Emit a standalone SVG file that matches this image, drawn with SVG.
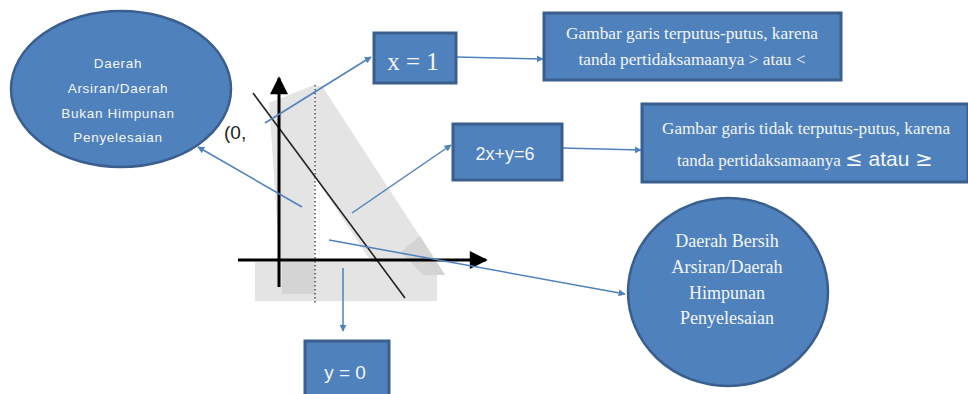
<svg xmlns="http://www.w3.org/2000/svg" width="968" height="394" viewBox="0 0 968 394">
<defs>
<style>
.node{fill:#4f81bd;stroke:#3a5f8e;stroke-width:3}
.ell{fill:#4f81bd;stroke:#3a5f8e;stroke-width:2.5}
.sans{font-family:"Liberation Sans",Arial,sans-serif;fill:#f3f6fb;text-anchor:middle}
.serif{font-family:"Liberation Serif","Times New Roman",serif;fill:#f3f6fb;text-anchor:middle}
.conn{stroke:#4f81bd;stroke-width:1.5;fill:none;marker-end:url(#ah)}
.sh1{fill:#e4e4e4}
.sh2{fill:#d4d4d4}
</style>
<marker id="ah" viewBox="0 0 10 10" refX="9" refY="5" markerWidth="7" markerHeight="7" markerUnits="userSpaceOnUse" orient="auto">
<path d="M0,0 L10,5 L0,10 z" fill="#4f81bd"/>
</marker>
<marker id="bk" viewBox="0 0 10 10" refX="9" refY="5" markerWidth="6.5" markerHeight="6" orient="auto">
<path d="M0,0 L10,5 L0,10 z" fill="#000"/>
</marker>
</defs>
<rect width="968" height="394" fill="#fff"/>

<g id="graph">
<rect class="sh1" x="255" y="262" width="182" height="39"/>
<polygon class="sh1" points="269,103 314,85 314,294 282,294"/>
<polygon class="sh2" points="282,262 314,262 314,294 282,294"/>
<polygon class="sh1" points="315,86 322,86 445,275 380,275 315,177"/>
<polygon class="sh2" points="401,252 420,236 445,275 423,275"/>
<line x1="315" y1="85" x2="315" y2="304" stroke="#333" stroke-width="1.3" stroke-dasharray="1.5,2.5"/>
<line x1="253" y1="93" x2="405" y2="298" stroke="#222" stroke-width="1.6"/>
<line x1="279" y1="287" x2="279" y2="78" stroke="#000" stroke-width="3" marker-end="url(#bk)"/>
<line x1="238" y1="260" x2="486" y2="260" stroke="#000" stroke-width="3" marker-end="url(#bk)"/>
<text x="224" y="139" font-family="'Liberation Sans',Arial,sans-serif" font-size="19" fill="#222">(0,</text>
</g>

<g id="connectors">
<line class="conn" x1="302" y1="207" x2="198" y2="147"/>
<line class="conn" x1="265" y1="123" x2="371" y2="57"/>
<line class="conn" x1="456" y1="57" x2="543" y2="59"/>
<line class="conn" x1="352" y1="213" x2="451" y2="145"/>
<line class="conn" x1="562" y1="148" x2="641" y2="150"/>
<line class="conn" x1="329" y1="240" x2="625" y2="294"/>
<line class="conn" x1="343" y1="268" x2="343" y2="331"/>
</g>

<g id="ellipse-left">
<ellipse class="ell" cx="121" cy="89" rx="110" ry="78"/>
<text class="sans" font-size="13.5" letter-spacing="0.7" x="118" y="68">Daerah</text>
<text class="sans" font-size="13.5" letter-spacing="0.7" x="118" y="93">Arsiran/Daerah</text>
<text class="sans" font-size="13.5" letter-spacing="0.7" x="118" y="118">Bukan Himpunan</text>
<text class="sans" font-size="13.5" letter-spacing="0.7" x="118" y="142">Penyelesaian</text>
</g>

<g id="box-x1">
<rect class="node" x="374" y="33" width="82" height="50"/>
<text class="serif" font-size="25" x="413" y="70">x = 1</text>
</g>

<g id="box-dashed">
<rect class="node" x="544" y="13" width="297" height="67"/>
<text class="serif" font-size="17" x="692" y="39" textLength="252" lengthAdjust="spacingAndGlyphs">Gambar garis terputus-putus, karena</text>
<text class="serif" font-size="17" x="692" y="65" textLength="227" lengthAdjust="spacingAndGlyphs">tanda pertidaksamaanya &gt; atau &lt;</text>
</g>

<g id="box-line">
<rect class="node" x="453" y="124" width="109" height="56"/>
<text class="sans" font-size="18" x="505" y="160">2x+y=6</text>
</g>

<g id="box-solid">
<rect class="node" x="642" y="104" width="326" height="78"/>
<text class="serif" font-size="17" x="806" y="134" textLength="288" lengthAdjust="spacingAndGlyphs">Gambar garis tidak terputus-putus, karena</text>
<text class="serif" font-size="17" x="805" y="166">tanda pertidaksamaanya <tspan font-family="'DejaVu Sans',sans-serif" font-size="21">≤</tspan><tspan font-family="'Liberation Sans',Arial,sans-serif" font-size="21"> atau </tspan><tspan font-family="'DejaVu Sans',sans-serif" font-size="21">≥</tspan></text>
</g>

<g id="ellipse-right">
<ellipse class="ell" cx="728" cy="292" rx="100" ry="94"/>
<text class="serif" font-size="18" x="727" y="247">Daerah Bersih</text>
<text class="serif" font-size="18" x="727" y="273">Arsiran/Daerah</text>
<text class="serif" font-size="18" x="727" y="299">Himpunan</text>
<text class="serif" font-size="18" x="727" y="324">Penyelesaian</text>
</g>

<g id="box-y0">
<rect class="node" x="305" y="341" width="84" height="60"/>
<text class="sans" font-size="19" x="345" y="379">y = 0</text>
</g>
</svg>
